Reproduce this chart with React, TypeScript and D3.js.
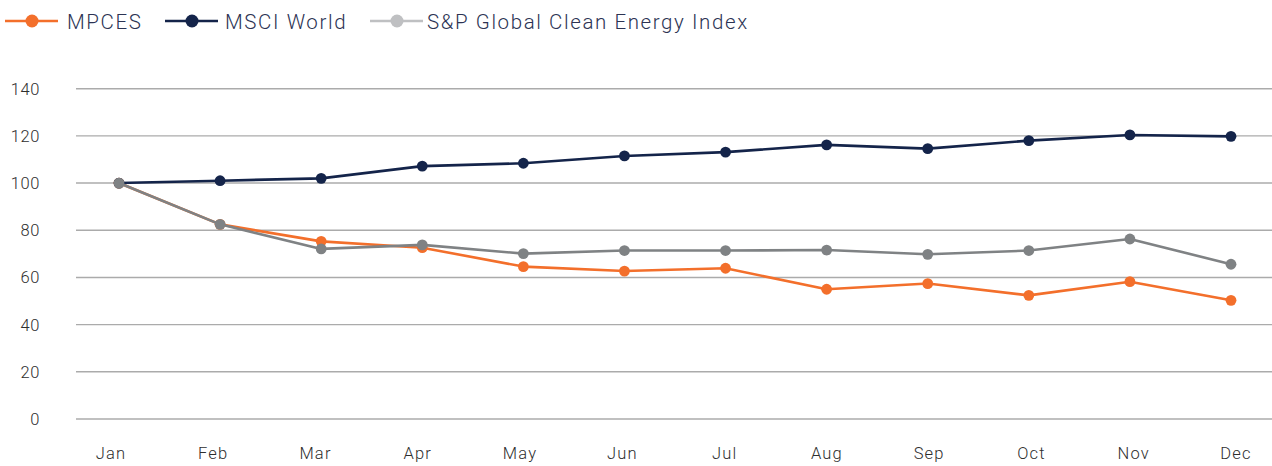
import { useEffect } from 'react';
import * as d3 from 'd3';

const MONTHS = ['Jan', 'Feb', 'Mar', 'Apr', 'May', 'Jun', 'Jul', 'Aug', 'Sep', 'Oct', 'Nov', 'Dec'];
const MPCES = [100, 82.5, 75.3, 72.6, 64.6, 62.7, 63.9, 55.0, 57.4, 52.4, 58.2, 50.3];
const MSCI = [100, 101.0, 102.0, 107.2, 108.4, 111.5, 113.1, 116.2, 114.6, 118.0, 120.4, 119.8];
const SPCE = [100, 82.5, 72.1, 73.8, 70.1, 71.4, 71.4, 71.6, 69.8, 71.4, 76.3, 65.6];
const Y_TICKS = [0, 20, 40, 60, 80, 100, 120, 140];

const W = 1272, H = 466;
const FONT = 'Roboto, "Noto Sans", sans-serif';

const SERIES = [
  { name: 'MPCES', values: MPCES, color: '#f36f2b', legend: '#f36f2b' },
  { name: 'MSCI World', values: MSCI, color: '#14244a', legend: '#14244a' },
  { name: 'S&P Global Clean Energy Index', values: SPCE, color: '#7f8284', legend: '#bfc0c2' },
];

export default function App() {
  useEffect(() => { document.body.style.margin = '0'; }, []);

  const x = d3.scalePoint<string>().domain(MONTHS).range([119, 1231]);
  const xl = d3.scalePoint<string>().domain(MONTHS).range([111, 1236]);
  const y = d3.scaleLinear().domain([0, 140]).range([419, 88.7]);
  const line = d3.line<number>().x((_, i) => x(MONTHS[i])!).y(v => y(v));

  const legendX = [5, 165, 370];
  const legendText = [67, 225, 427];

  return (
    <svg width={W} height={H} style={{ display: 'block', fontFamily: FONT, fontWeight: 300 }}>
      {Y_TICKS.map(t => (
        <g key={t}>
          <line x1={76} x2={W} y1={y(t)} y2={y(t)} stroke="#ababab" strokeWidth={1.4} />
          <text x={40} y={y(t) + 6} textAnchor="end" fontSize={16.5} fill="#2e2e2e" letterSpacing={0.6}>{t}</text>
        </g>
      ))}
      {MONTHS.map(m => (
        <text key={m} x={xl(m)} y={459} textAnchor="middle" fontSize={16.5} fill="#2e2e2e" letterSpacing={1.2}>{m}</text>
      ))}

      {SERIES.map(s => (
        <g key={s.name}>
          <path d={line(s.values) ?? ''} fill="none" stroke={s.color} strokeWidth={2.6} strokeLinejoin="round" />
          {s.values.map((v, i) => (
            <circle key={i} cx={x(MONTHS[i])} cy={y(v)} r={5.4} fill={s.color} />
          ))}
        </g>
      ))}

      {SERIES.map((s, i) => (
        <g key={'lg-' + s.name}>
          <line x1={legendX[i]} x2={legendX[i] + 53} y1={21} y2={21} stroke={s.legend} strokeWidth={2.6} />
          <circle cx={legendX[i] + 27} cy={21} r={6.5} fill={s.legend} />
          <text x={legendText[i]} y={29} fontSize={20.5} fill="#2c3353" letterSpacing={1.6}>{s.name}</text>
        </g>
      ))}
    </svg>
  );
}
